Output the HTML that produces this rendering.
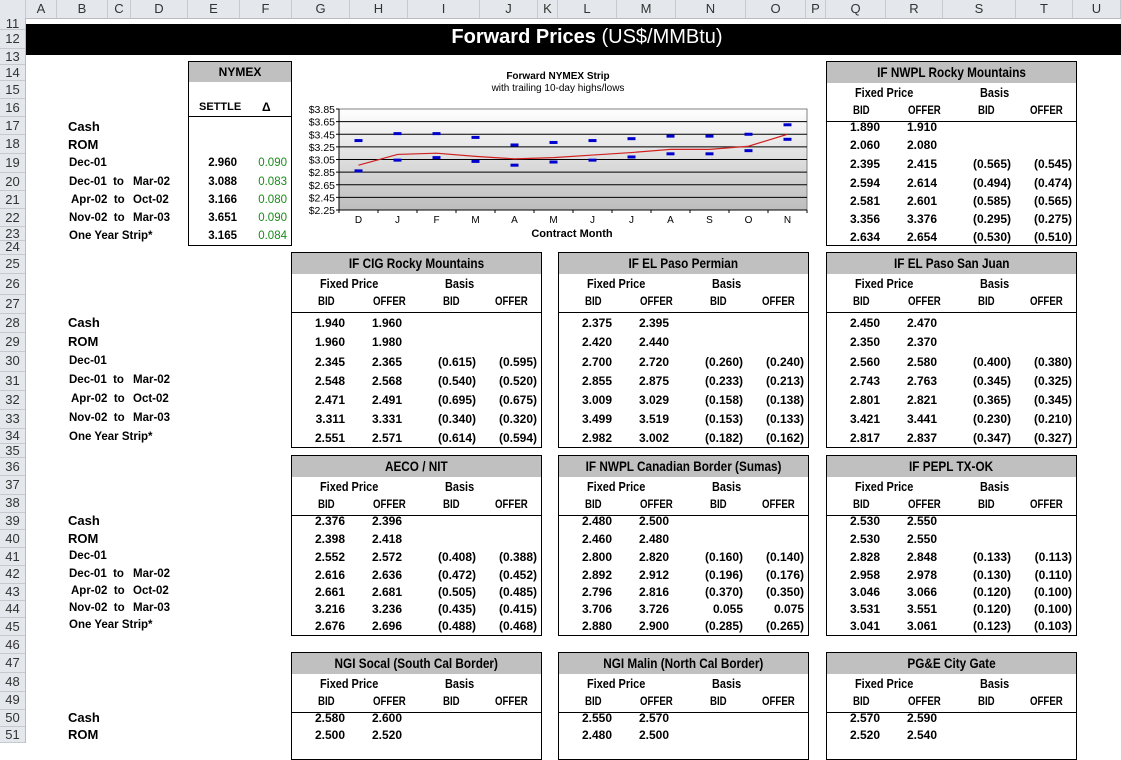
<!DOCTYPE html>
<html><head><meta charset="utf-8"><style>
body{margin:0;width:1121px;height:743px;overflow:hidden;background:#fff;position:relative;font-family:"Liberation Sans Narrow","Liberation Sans",sans-serif;}
.a{position:absolute;white-space:nowrap;}
.b{font-weight:bold;}
#colhdr{position:absolute;left:0;top:0;width:1121px;height:18px;background:#e4e7eb;border-bottom:1px solid #b8bcc2;}
#rowhdr{position:absolute;left:0;top:18px;width:25px;height:725px;background:#e4e7eb;border-right:1px solid #b8bcc2;}
.ch{position:absolute;top:0;height:18px;border-right:1px solid #c6c9ce;font:13px "Liberation Sans",sans-serif;color:#333;text-align:center;line-height:18px;}
.rh{position:absolute;left:0;width:25px;border-bottom:1px solid #c6c9ce;font:13px "Liberation Sans",sans-serif;color:#333;text-align:center;}
.box{position:absolute;border:1px solid #000;box-sizing:border-box;}
.hd{position:absolute;background:#c0c0c0;font-weight:bold;font-size:14px;text-align:center;}
.sq{display:inline-block;transform:scaleX(0.84);}
</style></head><body>
<div id="colhdr"></div>
<div id="rowhdr"></div>
<div class="a" style="left:26px;top:24px;width:1095px;height:31px;background:#000;"></div>
<div class="a" style="left:26px;top:26px;width:1122px;text-align:center;color:#fff;font:bold 20px 'Liberation Sans',sans-serif;">Forward Prices <span style="font-weight:normal">(US$/MMBtu)</span></div>
<svg id="chart" width="1121" height="743" style="position:absolute;left:0;top:0;" xmlns="http://www.w3.org/2000/svg"></svg>
<script>
const months=["D","J","F","M","A","M","J","J","A","S","O","N"];
const settle=[2.96,3.13,3.15,3.10,3.06,3.08,3.12,3.16,3.21,3.21,3.26,3.45];
const highs=[3.35,3.46,3.46,3.40,3.28,3.32,3.35,3.38,3.42,3.42,3.45,3.60];
const lows=[2.87,3.04,3.08,3.02,2.96,3.01,3.04,3.09,3.14,3.14,3.19,3.37];
const yTicks=[2.25,2.45,2.65,2.85,3.05,3.25,3.45,3.65,3.85];

const body=document.body;
function add(html,style,name,cls){const d=document.createElement('div');d.className='a '+(cls||'');d.style.cssText=style;d.innerHTML=html;


body.appendChild(d);return d;}

const cols=[["",0,26],["A",26,57],["B",57,108],["C",108,131],["D",131,188],["E",188,240],["F",240,292],["G",292,350],["H",350,408],["I",408,480],["J",480,538],["K",538,558],["L",558,617],["M",617,676],["N",676,746],["O",746,806],["P",806,826],["Q",826,886],["R",886,943],["S",943,1016],["T",1016,1073],["U",1073,1121]];
const ch=document.getElementById('colhdr');
cols.forEach(c=>{const d=document.createElement('div');d.className='ch';d.style.left=c[1]+'px';d.style.width=(c[2]-c[1]-1)+'px';d.textContent=c[0];


ch.appendChild(d);});
const rows=[[11,20],[12,40],[13,58],[14,72],[15,90],[16,108],[17,126],[18,144],[19,163],[20,182],[21,200],[22,218],[23,236],[24,246],[25,263],[26,285],[27,305],[28,323],[29,342],[30,362],[31,381],[32,400],[33,419],[34,438],[35,449],[36,466],[37,486],[38,504],[39,521],[40,539],[41,557],[42,575],[43,592],[44,609],[45,626],[46,645],[47,663],[48,683],[49,701],[50,718],[51,735]];
const rh=document.getElementById('rowhdr');
for(let i=0;i<rows.length;i++){const top=i==0?18:(rows[i-1][1]+rows[i][1])/2;const bot=i==rows.length-1?743:(rows[i][1]+rows[i+1][1])/2;
const d=document.createElement('div');d.className='rh';d.style.top=(top-18)+'px';d.style.height=(bot-top-1)+'px';d.style.lineHeight=(bot-top-1)+'px';
const small=(bot-top)<12;d.textContent=small?'':rows[i][0];


rh.appendChild(d);}

function labels(ys,name){
 add('Cash','left:68px;top:'+(ys[0]-8)+'px;font-size:13px;font-weight:bold;',name+'-cash');
 add('ROM','left:68px;top:'+(ys[1]-8)+'px;font-size:13px;font-weight:bold;',name+'-rom');
 if(ys.length<7) return;
 add('Dec-01','left:69px;top:'+(ys[2]-7)+'px;font-size:11.5px;font-weight:bold;',name+'-dec01');
 const r=[["Dec-01","Mar-02",69],["Apr-02","Oct-02",71],["Nov-02","Mar-03",69]];
 r.forEach((p,i)=>{add(p[0]+' &nbsp;to','left:'+p[2]+'px;top:'+(ys[3+i]-7)+'px;font-size:11.5px;font-weight:bold;',name+'-period');
  add(p[1],'left:133px;top:'+(ys[3+i]-7)+'px;font-size:11.5px;font-weight:bold;',name+'-period-end');});
 add('One Year Strip*','left:69px;top:'+(ys[6]-7)+'px;font-size:11.5px;font-weight:bold;',name+'-strip');
}
const Y1=[127,145,164,183,201,219,237],Y2=[323,342,362,381,400,419,438],Y3=[521,539,557,575,592,609,626],Y4=[718,735];
labels(Y1,'label-1');labels(Y2,'label-2');labels(Y3,'label-3');labels(Y4,'label-4');

add('','left:188px;top:61px;width:104px;height:185px;','nymex-box','box');
add('NYMEX','left:189px;top:62px;width:102px;height:20px;line-height:20px;font-size:12px;','nymex-header','hd');
add('SETTLE','left:199px;top:101px;font-size:11px;font-weight:bold;','settle-label');
add('Δ','left:262px;top:100px;font-size:12px;font-weight:bold;','delta-label');
add('','left:188px;top:116px;width:104px;height:1px;background:#000;','nymex-rule');
const nym=[["2.960","0.090"],["3.088","0.083"],["3.166","0.080"],["3.651","0.090"],["3.165","0.084"]];
nym.forEach((r,i)=>{const y=Y1[2+i]-7;
 add(r[0],'left:190px;width:47px;text-align:right;top:'+y+'px;font-size:11.5px;font-weight:bold;','nymex-settle');
 add(r[1],'left:240px;width:47px;text-align:right;top:'+y+'px;font-size:11.5px;color:#1a8a1a;','nymex-delta');});

function block(x,top,ys,bottom,title,data,name){
 add('','left:'+x+'px;top:'+top+'px;width:251px;height:'+(bottom-top)+'px;',name+'-box','box');
 add('<span class="sq">'+title+'</span>','left:'+(x+1)+'px;top:'+(top+1)+'px;width:249px;height:21px;line-height:21px;',name+'-title','hd');
 const fy=top+32,by=top+51,ly=top+60;
 add('<span class="sq" style="transform-origin:left">Fixed Price</span>','left:'+(x+29)+'px;top:'+(fy-8)+'px;font-size:13px;font-weight:bold;',name+'-fixed-price');
 add('<span class="sq" style="transform-origin:left">Basis</span>','left:'+(x+154)+'px;top:'+(fy-8)+'px;font-size:13px;font-weight:bold;',name+'-basis');
 [['BID',27],['OFFER',82],['BID',152],['OFFER',204]].forEach(h=>add('<span class="sq" style="transform-origin:left">'+h[0]+'</span>','left:'+(x+h[1])+'px;top:'+(by-7)+'px;font-size:11.5px;font-weight:bold;',name+'-col-'+h[0].toLowerCase()));
 add('','left:'+x+'px;top:'+ly+'px;width:251px;height:1px;background:#000;',name+'-rule');
 const rx=[54,111,185,246];
 data.forEach((r,i)=>{r.forEach((v,j)=>{if(!v)return;add(v,'left:'+(x+rx[j]-60)+'px;width:60px;text-align:right;top:'+(ys[i]-7)+'px;font-size:12px;font-weight:bold;',name+'-value');});});
}
block(826,61,Y1,246,'IF NWPL Rocky Mountains',[["1.890","1.910"],["2.060","2.080"],["2.395","2.415","(0.565)","(0.545)"],["2.594","2.614","(0.494)","(0.474)"],["2.581","2.601","(0.585)","(0.565)"],["3.356","3.376","(0.295)","(0.275)"],["2.634","2.654","(0.530)","(0.510)"]],'nwpl-rocky');
block(291,252,Y2,448,'IF CIG Rocky Mountains',[["1.940","1.960"],["1.960","1.980"],["2.345","2.365","(0.615)","(0.595)"],["2.548","2.568","(0.540)","(0.520)"],["2.471","2.491","(0.695)","(0.675)"],["3.311","3.331","(0.340)","(0.320)"],["2.551","2.571","(0.614)","(0.594)"]],'cig-rocky');
block(558,252,Y2,448,'IF EL Paso Permian',[["2.375","2.395"],["2.420","2.440"],["2.700","2.720","(0.260)","(0.240)"],["2.855","2.875","(0.233)","(0.213)"],["3.009","3.029","(0.158)","(0.138)"],["3.499","3.519","(0.153)","(0.133)"],["2.982","3.002","(0.182)","(0.162)"]],'el-paso-permian');
block(826,252,Y2,448,'IF EL Paso San Juan',[["2.450","2.470"],["2.350","2.370"],["2.560","2.580","(0.400)","(0.380)"],["2.743","2.763","(0.345)","(0.325)"],["2.801","2.821","(0.365)","(0.345)"],["3.421","3.441","(0.230)","(0.210)"],["2.817","2.837","(0.347)","(0.327)"]],'el-paso-san-juan');
block(291,455,Y3,636,'AECO / NIT',[["2.376","2.396"],["2.398","2.418"],["2.552","2.572","(0.408)","(0.388)"],["2.616","2.636","(0.472)","(0.452)"],["2.661","2.681","(0.505)","(0.485)"],["3.216","3.236","(0.435)","(0.415)"],["2.676","2.696","(0.488)","(0.468)"]],'aeco-nit');
block(558,455,Y3,636,'IF NWPL Canadian Border (Sumas)',[["2.480","2.500"],["2.460","2.480"],["2.800","2.820","(0.160)","(0.140)"],["2.892","2.912","(0.196)","(0.176)"],["2.796","2.816","(0.370)","(0.350)"],["3.706","3.726","0.055","0.075"],["2.880","2.900","(0.285)","(0.265)"]],'nwpl-sumas');
block(826,455,Y3,636,'IF PEPL TX-OK',[["2.530","2.550"],["2.530","2.550"],["2.828","2.848","(0.133)","(0.113)"],["2.958","2.978","(0.130)","(0.110)"],["3.046","3.066","(0.120)","(0.100)"],["3.531","3.551","(0.120)","(0.100)"],["3.041","3.061","(0.123)","(0.103)"]],'pepl-tx-ok');
block(291,652,Y4,760,'NGI Socal (South Cal Border)',[["2.580","2.600"],["2.500","2.520"]],'ngi-socal');
block(558,652,Y4,760,'NGI Malin (North Cal Border)',[["2.550","2.570"],["2.480","2.500"]],'ngi-malin');
block(826,652,Y4,760,'PG&amp;E City Gate',[["2.570","2.590"],["2.520","2.540"]],'pge-city-gate');

const svg=document.getElementById('chart');const NS='http://www.w3.org/2000/svg';
const L=339,R=807,T=109,B=210,vmin=2.25,vmax=3.85;
const y=v=>T+(vmax-v)/(vmax-vmin)*(B-T);
const bw=(R-L)/months.length;const x=i=>L+bw*(i+0.5);
function el(tag,attrs,name,txt){const e=document.createElementNS(NS,tag);for(const k in attrs)e.setAttribute(k,attrs[k]);


if(txt!==undefined)e.textContent=txt;svg.appendChild(e);return e;}
const defs=document.createElementNS(NS,'defs');defs.innerHTML='<linearGradient id="g" x1="0" y1="0" x2="0" y2="1"><stop offset="0" stop-color="#ffffff"/><stop offset="1" stop-color="#bdbdbd"/></linearGradient>';svg.appendChild(defs);
el('rect',{x:L,y:T,width:R-L,height:B-T,fill:'url(#g)',stroke:'#808080'},'plot-area');
yTicks.forEach(v=>{if(v>vmin&&v<vmax)el('line',{x1:L,x2:R,y1:y(v),y2:y(v),stroke:'#000','stroke-width':1},'gridline');
 el('line',{x1:L-3,x2:L,y1:y(v),y2:y(v),stroke:'#000'},'y-tick');
 el('text',{x:L-4,y:y(v)+4,'text-anchor':'end','font-size':'10.5','font-family':'Liberation Sans, sans-serif'},'y-tick-label','$'+v.toFixed(2));});
el('line',{x1:L,x2:L,y1:T,y2:B,stroke:'#000'},'y-axis');
el('line',{x1:L,x2:R,y1:B,y2:B,stroke:'#000'},'x-axis');
months.forEach((m,i)=>{el('line',{x1:L+bw*i,x2:L+bw*i,y1:B,y2:B+3,stroke:'#000'},'x-tick');
 el('text',{x:x(i),y:B+13,'text-anchor':'middle','font-size':'10','font-family':'Liberation Sans, sans-serif'},'x-tick-label',m);});
el('line',{x1:R,x2:R,y1:B,y2:B+3,stroke:'#000'},'x-tick');
el('polyline',{points:settle.map((v,i)=>x(i)+','+y(v)).join(' '),fill:'none',stroke:'#d02020','stroke-width':1.2},'settle-line');
highs.forEach((v,i)=>el('rect',{x:x(i)-4,y:y(v)-1.5,width:8,height:3,fill:'#0000cc'},'high-marker'));
lows.forEach((v,i)=>el('rect',{x:x(i)-4,y:y(v)-1.5,width:8,height:3,fill:'#0000cc'},'low-marker'));
el('text',{x:558,y:79,'text-anchor':'middle','font-size':'10','font-weight':'bold','font-family':'Liberation Sans, sans-serif'},'chart-title','Forward NYMEX Strip');
el('text',{x:558,y:91,'text-anchor':'middle','font-size':'10','font-family':'Liberation Sans, sans-serif'},'chart-subtitle','with trailing 10-day highs/lows');
el('text',{x:572,y:237,'text-anchor':'middle','font-size':'11','font-weight':'bold','font-family':'Liberation Sans, sans-serif'},'x-axis-title','Contract Month');
</script>
</body></html>
